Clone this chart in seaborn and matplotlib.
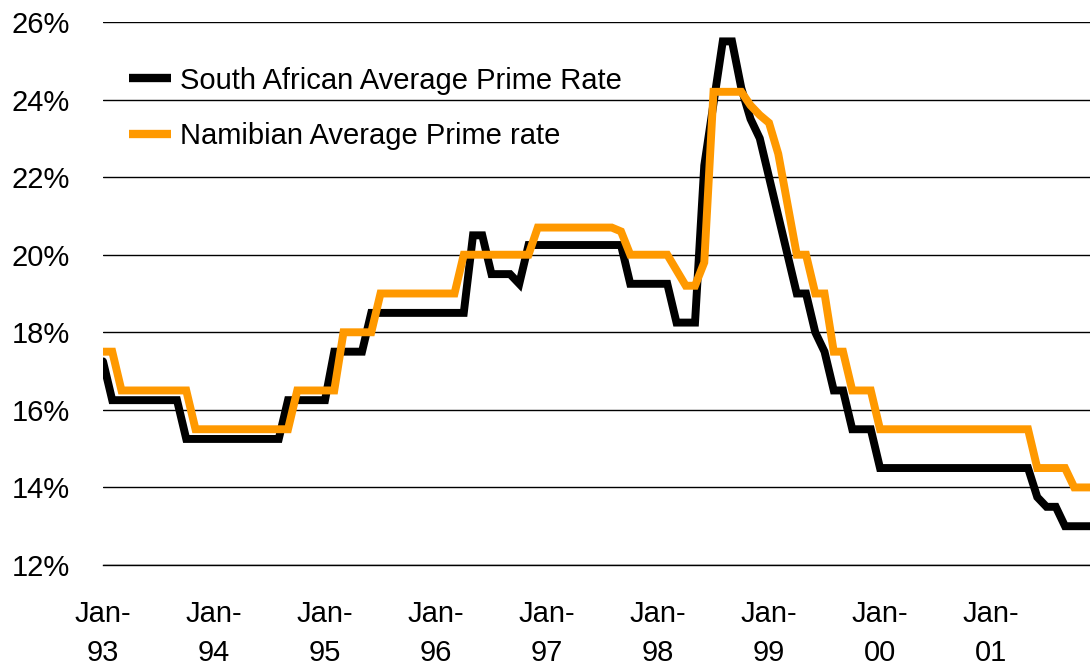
import numpy as np
import pandas as pd
import matplotlib
matplotlib.use("Agg")
import matplotlib.pyplot as plt
import seaborn as sns
from matplotlib.ticker import FuncFormatter

# monthly average prime rates, Jan-93 .. Dec-01 (one row per year)
sa_prime = [
    17.25, 16.25, 16.25, 16.25, 16.25, 16.25, 16.25, 16.25, 16.25, 15.25, 15.25, 15.25,
    15.25, 15.25, 15.25, 15.25, 15.25, 15.25, 15.25, 15.25, 16.25, 16.25, 16.25, 16.25,
    16.25, 17.5, 17.5, 17.5, 17.5, 18.5, 18.5, 18.5, 18.5, 18.5, 18.5, 18.5,
    18.5, 18.5, 18.5, 18.5, 20.5, 20.5, 19.5, 19.5, 19.5, 19.25, 20.25, 20.25,
    20.25, 20.25, 20.25, 20.25, 20.25, 20.25, 20.25, 20.25, 20.25, 19.25, 19.25, 19.25,
    19.25, 19.25, 18.25, 18.25, 18.25, 22.3, 23.9, 25.5, 25.5, 24.3, 23.5, 23.0,
    22.0, 21.0, 20.0, 19.0, 19.0, 18.0, 17.5, 16.5, 16.5, 15.5, 15.5, 15.5,
    14.5, 14.5, 14.5, 14.5, 14.5, 14.5, 14.5, 14.5, 14.5, 14.5, 14.5, 14.5,
    14.5, 14.5, 14.5, 14.5, 14.5, 13.75, 13.5, 13.5, 13.0, 13.0, 13.0, 13.0,
]
nam_prime = [
    17.5, 17.5, 16.5, 16.5, 16.5, 16.5, 16.5, 16.5, 16.5, 16.5, 15.5, 15.5,
    15.5, 15.5, 15.5, 15.5, 15.5, 15.5, 15.5, 15.5, 15.5, 16.5, 16.5, 16.5,
    16.5, 16.5, 18.0, 18.0, 18.0, 18.0, 19.0, 19.0, 19.0, 19.0, 19.0, 19.0,
    19.0, 19.0, 19.0, 20.0, 20.0, 20.0, 20.0, 20.0, 20.0, 20.0, 20.0, 20.7,
    20.7, 20.7, 20.7, 20.7, 20.7, 20.7, 20.7, 20.7, 20.6, 20.0, 20.0, 20.0,
    20.0, 20.0, 19.6, 19.2, 19.2, 19.8, 24.2, 24.2, 24.2, 24.2, 23.85, 23.6,
    23.4, 22.6, 21.3, 20.0, 20.0, 19.0, 19.0, 17.5, 17.5, 16.5, 16.5, 16.5,
    15.5, 15.5, 15.5, 15.5, 15.5, 15.5, 15.5, 15.5, 15.5, 15.5, 15.5, 15.5,
    15.5, 15.5, 15.5, 15.5, 15.5, 14.5, 14.5, 14.5, 14.5, 14.0, 14.0, 14.0,
]
year_labels = ["Jan-\n93", "Jan-\n94", "Jan-\n95", "Jan-\n96", "Jan-\n97",
               "Jan-\n98", "Jan-\n99", "Jan-\n00", "Jan-\n01"]
series_names = ["South African Average Prime Rate", "Namibian Average Prime rate"]

sns.set_style("white")
plt.rcParams["font.family"] = ["Liberation Sans", "DejaVu Sans"]
plt.rcParams["text.color"] = "black"

months = np.arange(len(sa_prime))
df = pd.DataFrame({
    "month": np.concatenate([months, months]),
    "rate": sa_prime + nam_prime,
    "series": [series_names[0]] * len(sa_prime) + [series_names[1]] * len(nam_prime),
})

fig = plt.figure(figsize=(10.9, 6.68), dpi=100)
ax = fig.add_axes([103 / 1090, 1 - 565 / 668, 987 / 1090, 543 / 668])

sns.lineplot(data=df, x="month", y="rate", hue="series",
             palette=["#000000", "#FF9900"], linewidth=5.7, ax=ax,
             legend=False)
for line in ax.lines:
    line.set_solid_joinstyle("miter")

ax.set_xlim(0, 106.7)
ax.set_ylim(12, 26)
ax.set_yticks(range(12, 27, 2))
ax.yaxis.set_major_formatter(FuncFormatter(lambda v, p: f"{v:.0f}%"))
ax.set_xticks(range(0, 108, 12))
ax.set_xticklabels(year_labels, linespacing=1.5)
ax.set_xlabel("")
ax.set_ylabel("")

ax.grid(axis="y", color="black", linewidth=1.0)
ax.grid(axis="x", visible=False)
for side in ["top", "right", "left"]:
    ax.spines[side].set_visible(False)
ax.spines["bottom"].set_color("black")
ax.spines["bottom"].set_linewidth(1.0)

ax.tick_params(axis="x", direction="out", length=7.5, width=0.8, color="black",
               pad=18, labelsize=21, labelcolor="black")
ax.tick_params(axis="y", length=0, pad=24, labelsize=21, labelcolor="black")

handles = [plt.Line2D([], [], color="#000000", linewidth=6, solid_capstyle="butt"),
           plt.Line2D([], [], color="#FF9900", linewidth=6, solid_capstyle="butt")]
ax.legend(handles, series_names, loc="upper left", frameon=False,
          bbox_to_anchor=(0.026, 0.918), borderpad=0, borderaxespad=0,
          handlelength=1.45, handletextpad=0.3, labelspacing=0.95, fontsize=21,
          labelcolor="black")

fig.savefig("out.png", dpi=100)
